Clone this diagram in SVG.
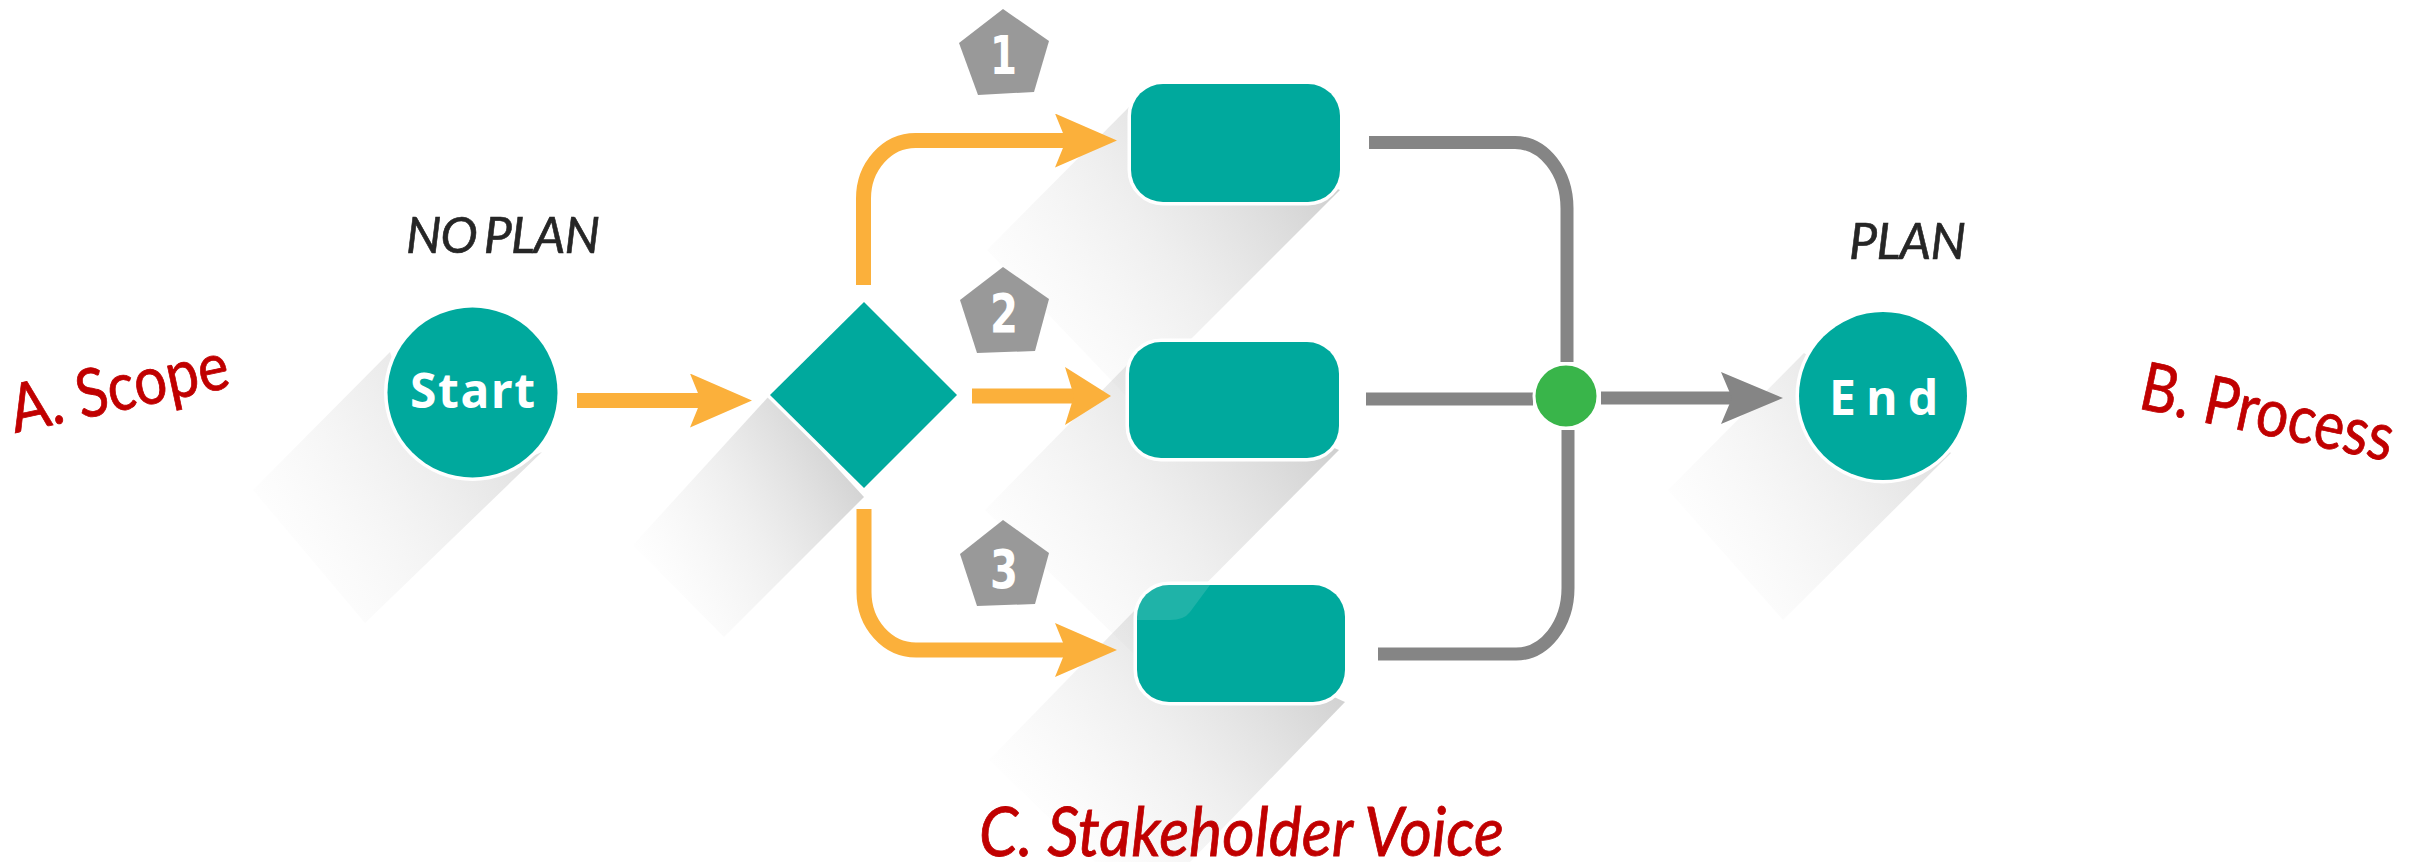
<svg xmlns="http://www.w3.org/2000/svg" width="2425" height="862" viewBox="0 0 2425 862">
<style>
.teal{fill:#00a99d;stroke:#fff;stroke-width:7;paint-order:stroke}
.o{fill:none;stroke:#fbb03b;stroke-width:15}
.g{fill:none;stroke:#858585;stroke-width:13}
.pent{fill:#999}
.num{font-family:"DejaVu Sans",sans-serif;font-weight:700;font-size:54px;fill:#fff}
.lbl{font-family:"Noto Sans",sans-serif;font-weight:700;font-size:48px;fill:#fff}
.plan{font-family:"Lato",sans-serif;font-style:italic;font-size:50px;fill:#262626;stroke:#262626;stroke-width:.6;word-spacing:-4px}
.red{font-family:"Lato",sans-serif;font-size:67px;fill:#c00000;stroke:#c00000;stroke-width:.8}
</style>
<defs>
<linearGradient id="sh" x1="1" y1="0.3" x2="0.1" y2="0.85"><stop offset="0" stop-color="#bbb" stop-opacity=".7"/><stop offset=".5" stop-color="#ccc" stop-opacity=".32"/><stop offset="1" stop-color="#ddd" stop-opacity="0"/></linearGradient>
<linearGradient id="shL" x1="1" y1="0.3" x2="0.1" y2="0.85"><stop offset="0" stop-color="#bbb" stop-opacity=".5"/><stop offset=".5" stop-color="#ccc" stop-opacity=".25"/><stop offset="1" stop-color="#ddd" stop-opacity="0"/></linearGradient>
<marker id="hO" markerUnits="userSpaceOnUse" markerWidth="70" markerHeight="60" refX="11" refY="27" orient="auto"><path d="M0,0L62,27L0,54L11,27Z" fill="#fbb03b"/></marker>
<marker id="hOm" markerUnits="userSpaceOnUse" markerWidth="60" markerHeight="60" refX="9" refY="29" orient="auto"><path d="M0,0L46,29L0,58L9,29Z" fill="#fbb03b"/></marker>
<marker id="hG" markerUnits="userSpaceOnUse" markerWidth="70" markerHeight="60" refX="11" refY="26" orient="auto"><path d="M0,0L62,26L0,52L11,26Z" fill="#858585"/></marker>
</defs>
<rect width="2425" height="862" fill="#fff"/>
<g id="shadows">
<polygon points="390,352 253,490 365,623 542,452 500,470 420,440" fill="url(#shL)"/>
<polygon points="770,395 633,545 724,637 864,497" fill="url(#sh)"/>
<polygon points="1131,105 987,250 1130,400 1340,190" fill="url(#sh)"/>
<polygon points="1129,363 985,510 1135,655 1339,450" fill="url(#sh)"/>
<polygon points="1137,608 989,760 1095,862 1190,862 1345,702" fill="url(#sh)"/>
<polygon points="1804,353 1668,490 1783,620 1951,453" fill="url(#shL)"/>
</g>
<g id="connectors">
<path class="o" d="M577,400.5H701" marker-end="url(#hO)"/>
<path class="o" d="M863.5,285V198.5A52,58 0 0 1 915.5,140.5H1066" marker-end="url(#hO)"/>
<path class="o" d="M972,396H1074" marker-end="url(#hOm)"/>
<path class="o" d="M864,509V592A52,58 0 0 0 916,650H1066" marker-end="url(#hO)"/>
<path class="g" d="M1369,142.5H1515A52,66 0 0 1 1567,208.5V362"/>
<path class="g" d="M1366,399H1533"/>
<path class="g" d="M1378,654H1516A52,66 0 0 0 1568,588V430"/>
<path class="g" d="M1601,398H1732" marker-end="url(#hG)"/>
</g>
<g id="start"><circle class="teal" cx="472.5" cy="392.5" r="85"/><text class="lbl" x="410" y="408" textLength="125" lengthAdjust="spacing">Start</text></g>
<g id="decision"><polygon class="teal" points="864,302 957,395 864,488 770,395"/></g>
<g id="step1"><rect class="teal" x="1131" y="84" width="209" height="118" rx="32"/></g>
<g id="step2"><rect class="teal" x="1129" y="342" width="210" height="116" rx="32"/></g>
<g id="step3"><rect class="teal" x="1137" y="585" width="208" height="117" rx="32"/><path d="M1168,585H1210L1190,612Q1184,620 1170,620H1137V616Q1137,585 1168,585Z" fill="#fff" fill-opacity=".12"/></g>
<g id="merge"><circle cx="1566" cy="396" r="32" fill="#39b54a" stroke="#fff" stroke-width="3"/></g>
<g id="end"><circle class="teal" cx="1883" cy="396" r="84"/><text class="lbl" x="1829" y="415" textLength="109" lengthAdjust="spacing">End</text></g>
<g id="badge1"><polygon class="pent" points="1003,9 1049,41 1034,92 978,95 959,43"/><text class="num" x="990" y="74" textLength="27" lengthAdjust="spacingAndGlyphs">1</text></g>
<g id="badge2"><polygon class="pent" points="1003,267 1049,299 1035,351 977,353 960,300"/><text class="num" x="990" y="332" textLength="28" lengthAdjust="spacingAndGlyphs">2</text></g>
<g id="badge3"><polygon class="pent" points="1003,520 1049,553 1035,604 977,606 960,554"/><text class="num" x="990" y="588" textLength="28" lengthAdjust="spacingAndGlyphs">3</text></g>
<g id="labels">
<text class="plan" x="406" y="253" textLength="194" lengthAdjust="spacing">NO PLAN</text>
<text class="plan" x="1849" y="259" textLength="117" lengthAdjust="spacing">PLAN</text>
<text class="red" transform="translate(15,433) rotate(-12)" textLength="222" lengthAdjust="spacingAndGlyphs">A. Scope</text>
<text class="red" transform="translate(2137,408) rotate(12)" textLength="257" lengthAdjust="spacingAndGlyphs">B. Process</text>
<text class="red" x="979" y="856" font-style="italic" textLength="525" lengthAdjust="spacingAndGlyphs">C. Stakeholder Voice</text>
</g>
</svg>
